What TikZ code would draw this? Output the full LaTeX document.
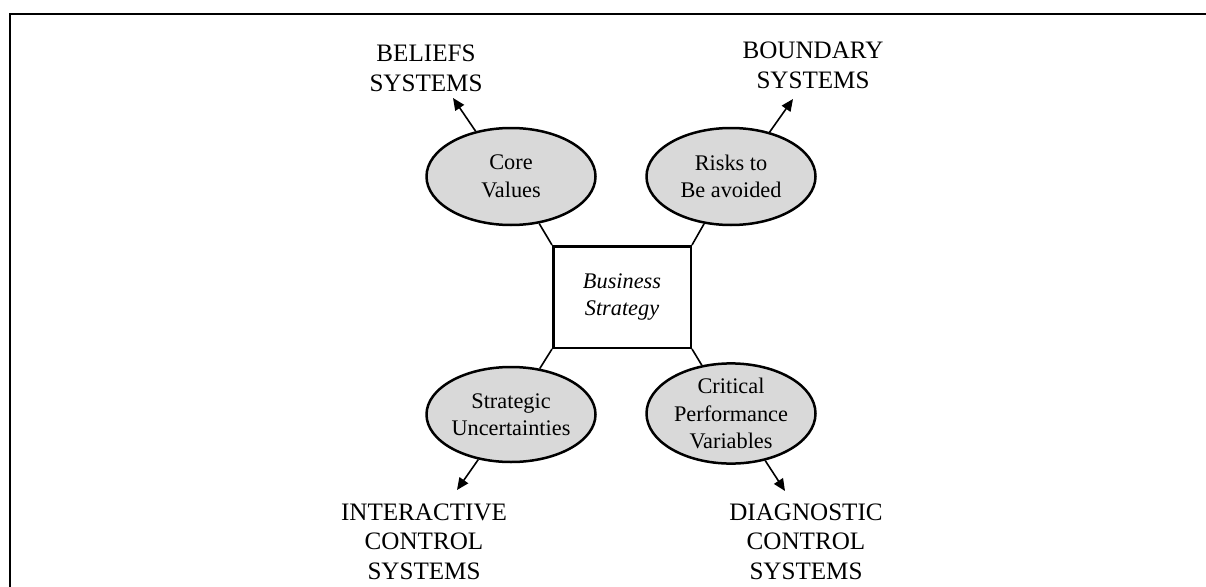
\documentclass[tikz,border=0pt]{standalone}
\usepackage{fontspec}
\setmainfont{Liberation Serif}
\usetikzlibrary{arrows.meta,shapes.geometric}
\begin{document}
\begin{tikzpicture}[x=1pt,y=-1pt,
  oval/.style={ellipse,draw,line width=2.5pt,fill=gray!30,inner sep=0pt,
    minimum width=169pt,minimum height=97pt,align=center,
    font=\fontsize{22.3}{27.5}\selectfont},
  sysl/.style={align=center,inner sep=0pt,anchor=north,
    font=\fontsize{25.1}{29.8}\selectfont},
  link/.style={line width=1.6pt},
  arr/.style={line width=1.6pt,-{Triangle[length=12pt,width=10.5pt]}}]
\useasboundingbox (0,0) rectangle (1206,586);
\draw[line width=2pt] (10,590) -- (10,14.5) -- (1212,14.5);

\node[oval] (core) at (511,176.5) {Core\\Values};
\node[oval] (risk) at (731,176.5) {Risks to\\Be avoided};
\node[oval,minimum height=95pt] (unc) at (511,414.5) {Strategic\\Uncertainties};
\node[oval,minimum height=95pt] (cpv) at (731,413.5) {Critical\\Performance\\Variables};
\node[draw,line width=2.5pt,minimum width=137.5pt,minimum height=101.5pt,
  inner sep=0pt,align=center,font=\fontsize{22.3}{27.5}\selectfont\itshape]
  (bs) at (622,297) {Business\\Strategy};

\node[sysl] (bel) at (426,45) {BELIEFS\\SYSTEMS};
\node[sysl] (bnd) at (813,42) {BOUNDARY\\SYSTEMS};
\node[sysl] (ict) at (424,503.3) {INTERACTIVE\\CONTROL\\SYSTEMS};
\node[sysl] (dct) at (806,503.3) {DIAGNOSTIC\\CONTROL\\SYSTEMS};

\coordinate (tA) at (453,98);
\coordinate (tB) at (793,99);
\coordinate (tC) at (457,490);
\coordinate (tD) at (785,491);

\draw[arr] (core.128) -- (tA);
\draw[arr] (risk.49) -- (tB);
\draw[arr] (unc.234) -- (tC);
\draw[arr] (cpv.306) -- (tD);

\draw[link] (bs.north west) -- (core);
\draw[link] (bs.north east) -- (risk);
\draw[link] (bs.south west) -- (unc);
\draw[link] (bs.south east) -- (cpv);
\end{tikzpicture}
\end{document}
